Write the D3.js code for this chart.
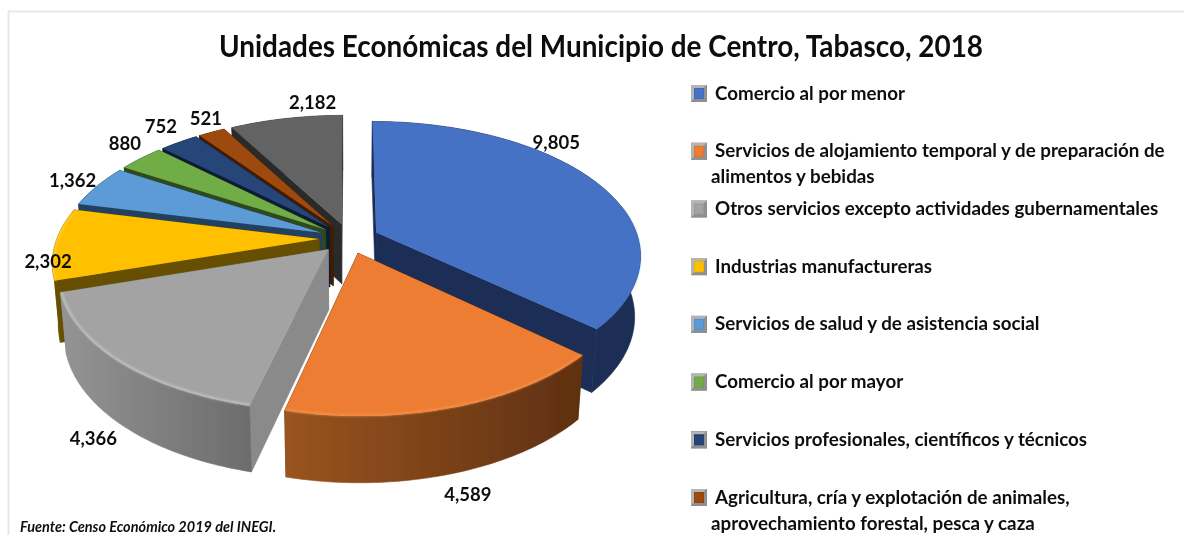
<!DOCTYPE html>
<html><head><meta charset="utf-8">
<script src="https://cdn.jsdelivr.net/npm/d3@7"></script>
<style>html,body{margin:0;padding:0;background:#fff}svg{display:block}text{font-family:Lato,Carlito,sans-serif;fill:#111}</style>
</head><body><svg id="c" width="1184" height="535"></svg>
<script>
const categories=["Comercio al por menor","Servicios de alojamiento temporal y de preparación de alimentos y bebidas","Otros servicios excepto actividades gubernamentales","Industrias manufactureras","Servicios de salud y de asistencia social","Comercio al por mayor","Servicios profesionales, científicos y técnicos","Agricultura, cría y explotación de animales, aprovechamiento forestal, pesca y caza","Resto"];
const values=[9805,4589,4366,2302,1362,880,752,521,2182];
const valueLabels=["9,805","4,589","4,366","2,302","1,362","880","752","521","2,182"];
const topColors=["#4472C4","#ED7D31","#A3A3A3","#FFC000","#5B9BD5","#70AD47","#264478","#9E480E","#636363"];
const faceColors=["#1a2d55","#5e3010","#8a8a8a","#665000","#24415f","#2d4a1c","#0f1e36","#3f1c05","#2c2c2c"];
const wallStops=[["#1a2d55","#1a2d55"],["#9a5420","#5e3010"],["#949494","#6c6c6c"],["#665000","#665000"],["#24415f","#24415f"],["#2d4a1c","#2d4a1c"],["#0f1e36","#0f1e36"],["#3f1c05","#3f1c05"],["#2c2c2c","#2c2c2c"]];
const rimColors=["#4472C4","#f79a55","#d4d4d4","#ffd34d","#5B9BD5","#70AD47","#264478","#9E480E","#636363"];
const labelNudge=[[-52,-38],[8,77],[-13,70],[7,17],[-13,-3],[-7,-11],[-11,-12],[0,-9],[29,-11]];
const legendLines=[["Comercio al por menor"],["Servicios de alojamiento temporal y de preparación de","alimentos y bebidas"],["Otros servicios excepto actividades gubernamentales"],["Industrias manufactureras"],["Servicios de salud y de asistencia social"],["Comercio al por mayor"],["Servicios profesionales, científicos y técnicos"],["Agricultura, cría y explotación de animales,","aprovechamiento forestal, pesca y caza"]];
const titleText="Unidades Económicas del Municipio de Centro, Tabasco, 2018";
const sourceText="Fuente: Censo Económico 2019 del INEGI.";

const svg=d3.select("#c");
const defs=svg.append("defs");
defs.append("filter").attr("id","soft").append("feGaussianBlur").attr("stdDeviation",0.5);
defs.append("filter").attr("id","softText").append("feGaussianBlur").attr("stdDeviation",0.3);
defs.append("filter").attr("id","rim").append("feGaussianBlur").attr("stdDeviation",0.8);

svg.append("path").attr("d","M8.5,535V11.5H1184").attr("fill","none").attr("stroke","#e8e8e8").attr("stroke-width",2);

// projection
const cx=349,cy=238.5,R=262,k=0.5,dist=1600,H=60,explode=30;
function project(a,r,z,ex,ey){ // a angle clockwise from the back, z 0 top / 1 bottom
  const X=ex+r*Math.sin(a),Y=ey-r*Math.cos(a);
  const s=1/(1-Y/dist);
  const f=z?0.98:1;
  return [cx+X*s*f,cy+Y*k*s+z*H*(0.5+0.5*s)];
}
const pie=d3.pie().sort(null).startAngle(0).endAngle(2*Math.PI);
const arcs=pie(values).map((d,i)=>{
  const mid=(d.startAngle+d.endAngle)/2;
  return {...d,i,mid,ex:explode*Math.sin(mid),ey:-explode*Math.cos(mid)};
});
const line=d3.line();
const root=svg.append("g").attr("filter","url(#soft)");
const order=arcs.slice().sort((a,b)=>a.ey-b.ey);
order.forEach(s=>{
  const N=Math.max(6,Math.ceil((s.endAngle-s.startAngle)*60));
  const ang=d3.range(N+1).map(j=>s.startAngle+(s.endAngle-s.startAngle)*j/N);
  const g=root.append("g");
  const p=(a,r,z)=>project(a,r,z,s.ex,s.ey);
  const apexT=p(0,0,0),apexB=p(0,0,1);
  // radial faces
  [s.startAngle,s.endAngle].forEach(a=>{
    g.append("path").attr("d",line([apexT,p(a,R,0),p(a,R,1),apexB])+"Z").attr("fill",faceColors[s.i]).attr("stroke",faceColors[s.i]).attr("stroke-width",0.6);
  });
  // outer wall
  const top=ang.map(a=>p(a,R,0)),bot=ang.map(a=>p(a,R,1));
  const gid="wall"+s.i;
  const xs=top.concat(bot).map(d=>d[0]);
  const grad=defs.append("linearGradient").attr("id",gid).attr("gradientUnits","userSpaceOnUse")
    .attr("x1",d3.min(xs)).attr("x2",d3.max(xs)).attr("y1",0).attr("y2",0);
  const stops=wallStops[s.i];
  grad.append("stop").attr("offset",0).attr("stop-color",stops[0]);
  grad.append("stop").attr("offset",1).attr("stop-color",stops[1]);
  g.append("path").attr("d",line(top.concat(bot.slice().reverse()))+"Z").attr("fill",`url(#${gid})`).attr("stroke",`url(#${gid})`).attr("stroke-width",0.6);
  // top
  g.append("path").attr("d",line([apexT,...top])+"Z").attr("fill",topColors[s.i]);
  // rim highlight
  const visible=ang.filter(a=>Math.cos(a)<0.2);
  if(visible.length>1){
    g.append("path").attr("d",line(visible.map(a=>p(a,R-1,0)))).attr("fill","none")
      .attr("stroke",rimColors[s.i]).attr("stroke-width",1.4).attr("filter","url(#rim)");
  }
});

const textLayer=svg.append("g").attr("filter","url(#softText)");
// value labels
arcs.forEach(s=>{
  const q=project(s.mid,R+14,0,s.ex,s.ey);
  const n=labelNudge[s.i];
  textLayer.append("text").attr("x",q[0]+n[0]).attr("y",q[1]+n[1]).attr("text-anchor","middle")
    .attr("dy","0.35em").attr("font-size",18.5).attr("font-weight",700).text(valueLabels[s.i]);
});

// title and source
textLayer.append("text").attr("x",219).attr("y",57).attr("font-size",30).attr("font-weight",700)
  .attr("textLength",764).attr("lengthAdjust","spacingAndGlyphs").text(titleText);
textLayer.append("text").attr("x",20).attr("y",532).attr("font-size",14.5).attr("font-weight",700).attr("font-style","italic").text(sourceText);

// legend
const legendY=d3.scalePoint().domain(d3.range(legendLines.length)).range([93,497]);
legendLines.forEach((lines,i)=>{
  const y=legendY(i),c=topColors[i];
  const lg=svg.append("g").attr("filter","url(#softText)");
  lg.append("rect").attr("x",691).attr("y",y-8).attr("width",16).attr("height",17).attr("fill",d3.color(c).darker(0.2));
  lg.append("path").attr("d",`M691,${y-8}h16l-3,3h-10v11l-3,3Z`).attr("fill","#b4b4b4");
  lg.append("path").attr("d",`M707,${y-8}v17h-16l3,-3h10v-11Z`).attr("fill","#8f8f8f");
  lg.append("rect").attr("x",695).attr("y",y-4).attr("width",8).attr("height",9).attr("fill",c);
  lines.forEach((t,j)=>{
    lg.append("text").attr("x",j?711:715).attr("y",y+6.5+j*26).attr("font-size",18.75).attr("font-weight",700).text(t);
  });
});
</script></body></html>
